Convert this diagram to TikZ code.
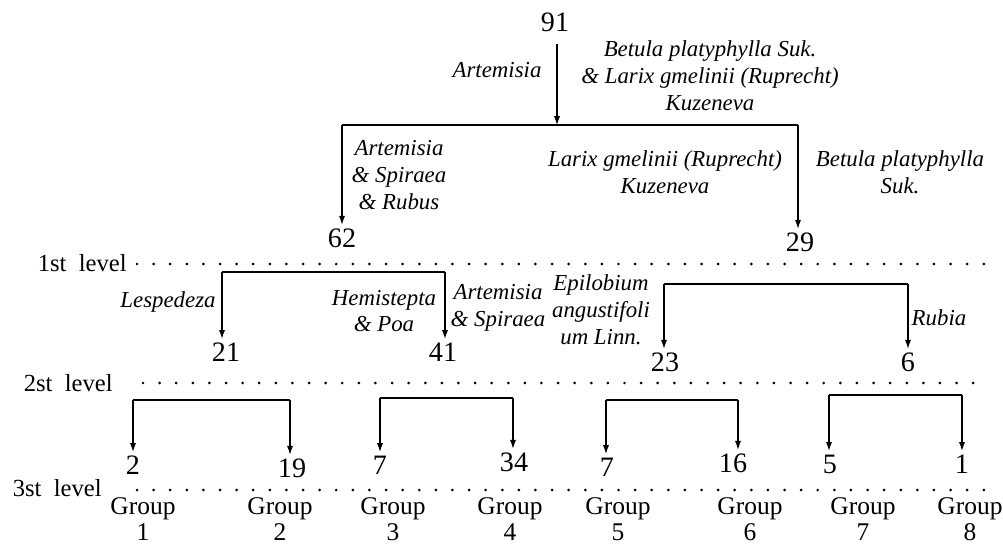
\documentclass[tikz,border=0pt]{standalone}
\usepackage{fontspec}
\setmainfont{Liberation Serif}
\usetikzlibrary{arrows.meta}

\begin{document}
\begin{tikzpicture}[x=0.02cm,y=-0.02cm,
    num/.style={font=\fontsize{16}{19}\selectfont, inner sep=2pt},
    lab/.style={font=\fontsize{13}{15.3}\selectfont\itshape, align=center, inner sep=0pt},
    lvl/.style={font=\fontsize{14}{16}\selectfont, inner sep=0pt, anchor=east},
    grp/.style={font=\fontsize{14.5}{15}\selectfont, align=center, inner sep=0pt, anchor=north},
    arr/.style={-{Latex[length=5pt,width=3.5pt]}, line width=0.6pt},
    dots/.style={line width=1.7pt, line cap=round, dash pattern=on 0pt off 9.45pt}]
    \useasboundingbox (0,0) rectangle (1003,547);
    % top split
    \node[num] (n91) at (555,22) {91};
    \coordinate (j0) at (557,125);
    \coordinate (aL) at (342,125);
    \coordinate (aR) at (798,125);
    \node[num] (n62) at (342,238) {62};
    \node[num] (n29) at (800,242) {29};
    \draw[arr, shorten <=5pt] (n91.south -| j0) -- (j0);
    \draw[line width=0.6pt] (aL) -- (aR);
    \draw[arr] (aL) -- (aL |- n62.north);
    \draw[arr] (aR) -- (aR |- n29.north);
    \node[lab] (lA) at (497,70) {Artemisia};
    \node[lab] (lB) at (710,76) {Betula platyphylla Suk.\\\& Larix gmelinii (Ruprecht)\\Kuzeneva};
    \node[lab] (lC) at (399,175) {Artemisia\\\& Spiraea\\\& Rubus};
    \node[lab] (lD) at (665,172) {Larix gmelinii (Ruprecht)\\Kuzeneva};
    \node[lab] (lE) at (900,172) {Betula platyphylla\\Suk.};
    % 1st level
    \node[lvl] (lv1) at (127,263) {1st~~level};
    \coordinate (p1a) at (137,264);
    \coordinate (p1b) at (985,264);
    \draw[dots] (p1a) -- (p1b);
    \coordinate (bL) at (222,272);
    \coordinate (bR) at (445,272);
    \node[num] (n21) at (226,352) {21};
    \node[num] (n41) at (443,352) {41};
    \draw[line width=0.6pt] (bL) -- (bR);
    \draw[arr] (bL) -- (bL |- n21.north);
    \draw[arr] (bR) -- (bR |- n41.north);
    \node[lab] (lF) at (168,302) {Lespedeza};
    \node[lab] (lG) at (384,311) {Hemistepta\\\& Poa};
    \node[lab] (lH) at (498,308) {Artemisia\\\& Spiraea};
    \coordinate (cL) at (664,284);
    \coordinate (cR) at (908,284);
    \node[num] (n23) at (665,362) {23};
    \node[num] (n6) at (908,362) {6};
    \draw[line width=0.6pt] (cL) -- (cR);
    \draw[arr] (cL) -- (cL |- n23.north);
    \draw[arr] (cR) -- (cR |- n6.north);
    \node[lab] (lI) at (601,310) {Epilobium\\angustifoli\\um Linn.};
    \node[lab] (lJ) at (939,318) {Rubia};
    % 2st level
    \node[lvl] (lv2) at (113,383) {2st~~level};
    \coordinate (p2a) at (143,383);
    \coordinate (p2b) at (985,383);
    \draw[dots] (p2a) -- (p2b);
    \coordinate (e1L) at (133,400);
    \coordinate (e1R) at (290,400);
    \coordinate (e2L) at (380,398);
    \coordinate (e2R) at (513,398);
    \coordinate (e3L) at (606,400);
    \coordinate (e3R) at (738,400);
    \coordinate (e4L) at (829,395);
    \coordinate (e4R) at (962,395);
    \node[num] (n2) at (133,465) {2};
    \node[num] (n19) at (292,468) {19};
    \node[num] (n7a) at (380,465) {7};
    \node[num] (n34) at (514,462) {34};
    \node[num] (n7b) at (607,467) {7};
    \node[num] (n16) at (733,463) {16};
    \node[num] (n5) at (830,464) {5};
    \node[num] (n1) at (962,464) {1};
    \draw[line width=0.6pt] (e1L) -- (e1R);
    \draw[line width=0.6pt] (e2L) -- (e2R);
    \draw[line width=0.6pt] (e3L) -- (e3R);
    \draw[line width=0.6pt] (e4L) -- (e4R);
    \draw[arr] (e1L) -- (e1L |- n2.north);
    \draw[arr] (e1R) -- (e1R |- n19.north);
    \draw[arr] (e2L) -- (e2L |- n7a.north);
    \draw[arr] (e2R) -- (e2R |- n34.north);
    \draw[arr] (e3L) -- (e3L |- n7b.north);
    \draw[arr] (e3R) -- (e3R |- n16.north);
    \draw[arr] (e4L) -- (e4L |- n5.north);
    \draw[arr] (e4R) -- (e4R |- n1.north);
    % 3st level
    \node[lvl] (lv3) at (102,488) {3st~~level};
    \coordinate (p3a) at (137,490);
    \coordinate (p3b) at (985,490);
    \draw[dots] (p3a) -- (p3b);
    \node[grp] (g1) at (143,497) {Group\\1};
    \node[grp] (g2) at (280,497) {Group\\2};
    \node[grp] (g3) at (393,497) {Group\\3};
    \node[grp] (g4) at (510,497) {Group\\4};
    \node[grp] (g5) at (618,497) {Group\\5};
    \node[grp] (g6) at (750,497) {Group\\6};
    \node[grp] (g7) at (863,497) {Group\\7};
    \node[grp] (g8) at (970,497) {Group\\8};
\end{tikzpicture}
\end{document}
